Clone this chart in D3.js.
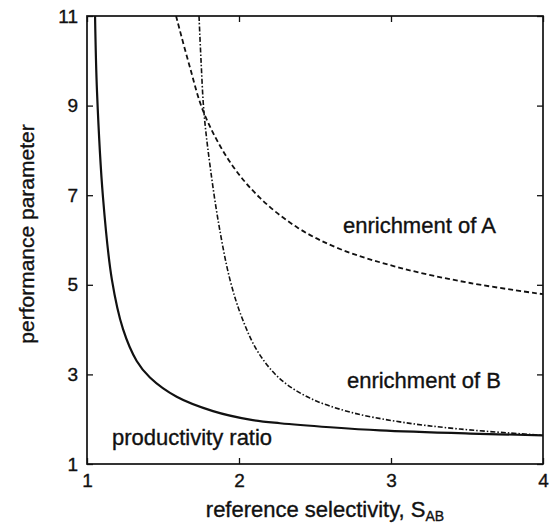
<!DOCTYPE html>
<html>
<head>
<meta charset="utf-8">
<script src="https://cdn.jsdelivr.net/npm/d3@7"></script>
<style>
  body { margin: 0; background: #fff; }
  text { font-family: "Liberation Sans", Arial, Helvetica, sans-serif; fill: #111; stroke: #111; stroke-width: 0.35px; }
</style>
</head>
<body>
<div id="chart"></div>
<script>
 const width = 555;
 const height = 528;

 // values
 const xTicks = [1, 2, 3, 4];
 const yTicks = [1, 3, 5, 7, 9, 11];

 const prodX = [1.053, 1.066, 1.105, 1.164, 1.237, 1.327, 1.414, 1.59, 1.829, 2.072, 2.27, 2.6, 2.928, 3.52, 4.0];
 const prodY = [11, 9.3, 6.96, 5.11, 4.01, 3.3, 2.93, 2.5, 2.18, 1.99, 1.91, 1.82, 1.75, 1.68, 1.64];

 const enrAX = [1.586, 1.671, 1.77, 1.941, 2.138, 2.388, 2.664, 3.059, 3.52, 4.0];
 const enrAY = [11, 9.93, 8.83, 7.74, 6.94, 6.27, 5.80, 5.38, 5.04, 4.79];

 const enrBX = [1.737, 1.75, 1.77, 1.809, 1.868, 1.941, 2.02, 2.125, 2.27, 2.467, 2.73, 3.059, 3.454, 4.0];
 const enrBY = [11, 10.02, 8.83, 7.67, 6.33, 5.11, 4.26, 3.5, 2.9, 2.47, 2.16, 1.94, 1.78, 1.64];

 const margin = { top: 16, right: 12, bottom: 64, left: 87 };
 const w = width - margin.left - margin.right,
   h = height - margin.top - margin.bottom;

 const svg = d3.select("#chart")
   .append("svg")
   .attr("width", width)
   .attr("height", height)
   .append("g")
   .attr("transform", "translate(" + margin.left + "," + margin.top + ")");

 const x = d3.scaleLinear().domain([1, 4]).range([0, w]);
 const y = d3.scaleLinear().domain([1, 11]).range([h, 0]);

 svg.append("clipPath").attr("id", "clip")
   .append("rect").attr("width", w).attr("height", h);

 // inward ticks on all four sides, matlab style
 const tickLen = 6;
 function ax(g) {
   g.select(".domain").remove();
   g.selectAll(".tick line").attr("stroke", "#111").attr("stroke-width", 1.3);
   g.selectAll("text").style("font-size", "19px").attr("fill", "#111");
 }

 svg.append("g")
   .attr("transform", "translate(0," + h + ")")
   .call(d3.axisBottom(x).tickValues(xTicks).tickSize(-tickLen).tickPadding(10).tickFormat(d3.format("d")))
   .call(ax);
 svg.append("g")
   .call(d3.axisTop(x).tickValues(xTicks).tickSize(-tickLen).tickFormat(""))
   .call(ax);
 svg.append("g")
   .call(d3.axisLeft(y).tickValues(yTicks).tickSize(-tickLen).tickPadding(9).tickFormat(d3.format("d")))
   .call(ax);
 svg.append("g")
   .attr("transform", "translate(" + w + ",0)")
   .call(d3.axisRight(y).tickValues(yTicks).tickSize(-tickLen).tickFormat(""))
   .call(ax);

 svg.append("rect")
   .attr("width", w)
   .attr("height", h)
   .attr("fill", "none")
   .attr("stroke", "#111")
   .attr("stroke-width", 1.7);

 const line = d3.line()
   .x(d => x(d[0]))
   .y(d => y(d[1]))
   .curve(d3.curveCatmullRom.alpha(0.5));

 const series = [
   { xs: prodX, ys: prodY, dash: null, sw: 2.2 },
   { xs: enrAX, ys: enrAY, dash: "5,3", sw: 1.8 },
   { xs: enrBX, ys: enrBY, dash: "5,2,1.5,2", sw: 1.6 }
 ];

 svg.append("g")
   .attr("clip-path", "url(#clip)")
   .selectAll("path")
   .data(series)
   .enter()
   .append("path")
   .attr("d", s => line(s.xs.map((v, i) => [v, s.ys[i]])))
   .attr("fill", "none")
   .attr("stroke", "#111")
   .attr("stroke-width", s => s.sw)
   .attr("stroke-dasharray", s => s.dash);

 // curve labels
 svg.append("text").attr("x", x(1.164)).attr("y", y(1.42))
   .style("font-size", "22px").text("productivity ratio");
 svg.append("text").attr("x", x(2.684)).attr("y", y(6.16))
   .style("font-size", "22px").text("enrichment of A");
 svg.append("text").attr("x", x(2.71)).attr("y", y(2.7))
   .style("font-size", "22px").text("enrichment of B");

 // axis titles
 const xt = svg.append("text")
   .attr("x", w / 2 + 10)
   .attr("y", h + 53)
   .attr("text-anchor", "middle")
   .style("font-size", "22px");
 xt.append("tspan").text("reference selectivity, S");
 xt.append("tspan").attr("dy", 4).style("font-size", "14px").text("AB");

 svg.append("text")
   .attr("transform", "translate(" + (-53) + "," + (h / 2 - 6) + ") rotate(-90)")
   .attr("text-anchor", "middle")
   .style("font-size", "21px")
   .text("performance parameter");
</script>
</body>
</html>
